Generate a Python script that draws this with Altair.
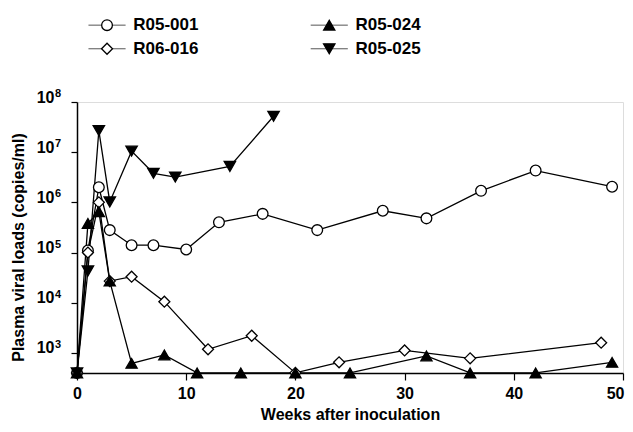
import altair as alt
import pandas as pd

# ---- data (weeks after inoculation, plasma viral load copies/ml) ----
series_names = ["R05-001", "R06-016", "R05-024", "R05-025"]

r05_001_weeks = [0, 1, 2, 3, 5, 7, 10, 13, 17, 22, 28, 32, 37, 42, 49]
r05_001_loads = [400, 110000, 2000000, 280000, 140000, 140000, 115000, 400000,
                 590000, 280000, 680000, 480000, 1700000, 4300000, 2050000]

r06_016_weeks = [0, 1, 2, 3, 5, 8, 12, 16, 20, 24, 30, 36, 48]
r06_016_loads = [400, 100000, 1000000, 27000, 33000, 10500, 1180, 2200,
                 400, 650, 1120, 780, 1600]

r05_024_weeks = [0, 1, 2, 3, 5, 8, 11, 15, 20, 25, 32, 36, 42, 49]
r05_024_loads = [400, 380000, 650000, 27000, 620, 910, 400, 400, 400, 400,
                 870, 400, 400, 650]

r05_025_weeks = [0, 1, 2, 3, 5, 7, 9, 14, 18]
r05_025_loads = [400, 43000, 27000000, 1020000, 10500000, 3800000, 3200000,
                 5200000, 52000000]

x_ticks = [0, 10, 20, 30, 40, 50]
y_ticks = [1e3, 1e4, 1e5, 1e6, 1e7, 1e8]
y_exponents = ["3", "4", "5", "6", "7", "8"]

shapes = ["circle", "diamond", "triangle-up", "triangle-down"]
fills = ["white", "white", "black", "black"]
sizes = [115, 130, 120, 120]

rows = []
for name, wk, ld in [
    ("R05-001", r05_001_weeks, r05_001_loads),
    ("R06-016", r06_016_weeks, r06_016_loads),
    ("R05-024", r05_024_weeks, r05_024_loads),
    ("R05-025", r05_025_weeks, r05_025_loads),
]:
    for w, l in zip(wk, ld):
        rows.append({"series": name, "week": w, "load": l})
df = pd.DataFrame(rows)

exp_df = pd.DataFrame({"load": y_ticks, "exp": y_exponents})

# legend layout (in data units, placed above the plot)
leg_series = ["R05-001", "R05-024", "R06-016", "R05-025"]
leg_col_x = [2.75, 23.1, 2.75, 23.1]
leg_row_y = [3.4e9, 3.4e9, 1.15e9, 1.15e9]
leg = pd.DataFrame({"series": leg_series, "x": leg_col_x, "y": leg_row_y})
leg["x1"] = leg["x"] - 1.7
leg["x2"] = leg["x"] + 1.7
leg["xt"] = leg["x"] + 2.4

FONT = "Liberation Sans"

xscale = alt.Scale(domain=[0, 50], nice=False)
yscale = alt.Scale(type="log", domain=[398, 1e8], nice=False)
shape_scale = alt.Scale(domain=series_names, range=shapes)
fill_scale = alt.Scale(domain=series_names, range=fills)
size_scale = alt.Scale(domain=series_names, range=sizes)

x_enc = alt.X("week:Q", scale=xscale,
              axis=alt.Axis(values=x_ticks, title="Weeks after inoculation",
                            titleFontSize=16, titleFont=FONT, titleFontWeight="bold",
                            titleBaseline="alphabetic", titleY=46,
                            labelFlush=False,
                            labelAlign={"condition": {"test": "datum.value == 50", "value": "right"},
                                        "value": "center"},
                            labelOffset={"condition": {"test": "datum.value == 50", "value": 1},
                                         "value": 0},
                            labelFontSize=16, labelFont=FONT, labelFontWeight="bold",
                            labelPadding=5,
                            tickSize=7, tickColor="black", domainColor="black",
                            domainWidth=1.5, tickWidth=1.2, grid=False,
                            labelColor="black", titleColor="black"))
y_enc = alt.Y("load:Q", scale=yscale,
              axis=alt.Axis(values=y_ticks,
                            labelExpr="'10'",
                            title="Plasma viral loads (copies/ml)",
                            titleFontSize=16, titleFont=FONT, titleFontWeight="bold",
                            titleX=-59, titleY=145, titleBaseline="middle",
                            titleAlign="center", titleAngle=270,
                            labelBaseline="alphabetic",
                            labelFontSize=16, labelFont=FONT, labelFontWeight="bold",
                            labelPadding=17, labelFlush=False,
                            tickSize=6, tickColor="black", domainColor="black",
                            domainWidth=1.5, tickWidth=1.2, grid=False,
                            labelColor="black", titleColor="black"))

base = alt.Chart(df)

lines = base.mark_line(color="black", strokeWidth=1.3, clip=False).encode(
    x=x_enc, y=y_enc, detail="series:N")

points = base.mark_point(stroke="black", strokeWidth=1.3, opacity=1,
                         filled=False, clip=False).encode(
    x=alt.X("week:Q", scale=xscale),
    y=alt.Y("load:Q", scale=yscale),
    shape=alt.Shape("series:N", scale=shape_scale, legend=None),
    fill=alt.Fill("series:N", scale=fill_scale, legend=None),
    size=alt.Size("series:N", scale=size_scale, legend=None),
)

# exponents of the y-axis tick labels (10^n)
exps = alt.Chart(exp_df).mark_text(align="left", baseline="alphabetic", fontSize=11,
                                   font=FONT, fontWeight="bold", color="black",
                                   dx=-22, dy=-5).encode(
    x=alt.value(0),
    y=alt.Y("load:Q", scale=yscale),
    text="exp:N")

lb = alt.Chart(leg)
leg_lines = lb.mark_rule(color="#555", strokeWidth=1).encode(
    x=alt.X("x1:Q", scale=xscale), x2="x2:Q",
    y=alt.Y("y:Q", scale=yscale))
leg_pts = lb.mark_point(stroke="black", strokeWidth=1.3, opacity=1,
                        filled=False, clip=False).encode(
    x=alt.X("x:Q", scale=xscale),
    y=alt.Y("y:Q", scale=yscale),
    shape=alt.Shape("series:N", scale=shape_scale, legend=None),
    fill=alt.Fill("series:N", scale=fill_scale, legend=None),
    size=alt.Size("series:N", scale=size_scale, legend=None),
)
leg_text = lb.mark_text(align="left", baseline="middle", fontSize=17,
                        font=FONT, fontWeight="bold", color="black").encode(
    x=alt.X("xt:Q", scale=xscale),
    y=alt.Y("y:Q", scale=yscale),
    text="series:N")

chart = alt.layer(lines, points, exps, leg_lines, leg_pts, leg_text).properties(
    width=546, height=271,
    autosize=alt.AutoSizeParams(type="none"),
    padding={"left": 69, "top": 94, "right": 2, "bottom": 51},
).configure_view(stroke=None).configure(background="white")

chart.save("out.html", embed_options={"renderer": "svg", "actions": False})
